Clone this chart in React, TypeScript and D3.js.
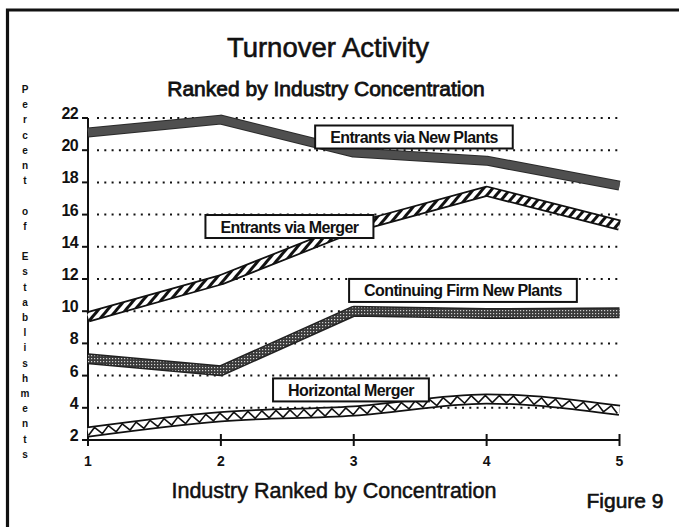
import React, { useEffect, useRef } from "react";
import * as d3 from "d3";

const xValues = [1, 2, 3, 4, 5];
const xTickLabels = ["1", "2", "3", "4", "5"];
const yTicks = [2, 4, 6, 8, 10, 12, 14, 16, 18, 20, 22];
const gridTicks = [4, 6, 8, 10, 12, 14, 16, 18, 20, 22];

const entrantsNewPlants = [21.1, 21.9, 19.85, 19.35, 17.8];
const entrantsMerger = [9.65, 11.95, 15.2, 17.45, 15.35];
const continuingNewPlants = [7.05, 6.3, 10.0, 9.85, 9.9];
const horizontalMerger = [2.5, 3.45, 3.8, 4.55, 3.85];

const seriesNames = [
  "Entrants via New Plants",
  "Entrants via Merger",
  "Continuing Firm New Plants",
  "Horizontal Merger",
];
const labelX = [3.453, 2.516, 3.822, 2.979];
const labelY = [20.82, 15.26, 11.29, 5.11];

const yTitle = "Percent of Establishments";
const title = "Turnover Activity";
const subtitle = "Ranked by Industry Concentration";
const xTitle = "Industry Ranked by Concentration";
const figureLabel = "Figure 9";

const W = 679;
const H = 527;
const FONT = "'Liberation Sans', Arial, Helvetica, sans-serif";

export default function App() {
  const ref = useRef<SVGSVGElement | null>(null);

  useEffect(() => {
    const svg = d3.select(ref.current);
    svg.selectAll("*").remove();

    const x = d3.scaleLinear().domain([1, 5]).range([88, 619.5]);
    const y = d3.scaleLinear().domain([2, 22]).range([440, 118]);

    const defs = svg.append("defs");
    const hatch = defs
      .append("pattern")
      .attr("id", "hatch")
      .attr("patternUnits", "userSpaceOnUse")
      .attr("width", 7)
      .attr("height", 7)
      .attr("patternTransform", "rotate(40)");
    hatch.append("rect").attr("width", 7).attr("height", 7).attr("fill", "#fff");
    hatch.append("rect").attr("width", 3).attr("height", 7).attr("fill", "#111");

    const stip = defs
      .append("pattern")
      .attr("id", "stipple")
      .attr("patternUnits", "userSpaceOnUse")
      .attr("width", 3)
      .attr("height", 3);
    stip.append("rect").attr("width", 3).attr("height", 3).attr("fill", "#3a3a3a");
    stip.append("rect").attr("x", 1).attr("y", 1).attr("width", 1.2).attr("height", 1.2).attr("fill", "#d0d0d0");

    // frame
    svg.append("rect").attr("width", W).attr("height", H).attr("fill", "#fff");
    svg
      .append("path")
      .attr("d", `M7.5,${H} L7.5,10 L${W},10`)
      .attr("fill", "none")
      .attr("stroke", "#111")
      .attr("stroke-width", 3.2);

    const heavyText = (
      tx: number,
      ty: number,
      size: number,
      str: string,
      sw: number
    ) =>
      svg
        .append("text")
        .attr("x", tx)
        .attr("y", ty)
        .attr("text-anchor", "middle")
        .attr("font-family", FONT)
        .attr("font-size", size)
        .attr("fill", "#111")
        .attr("stroke", "#111")
        .attr("stroke-width", sw)
        .text(str);

    // titles
    heavyText(328, 57, 27.5, title, 0.6);
    heavyText(326, 96, 21, subtitle, 0.8);
    heavyText(334, 498, 21.5, xTitle, 0.5);
    heavyText(625, 508, 21, figureLabel, 0.6);

    // vertical y title
    const letters = yTitle.split("");
    svg
      .append("g")
      .selectAll("text")
      .data(letters)
      .join("text")
      .attr("x", 25)
      .attr("y", (_d, i) => 93 + i * 15.2)
      .attr("text-anchor", "middle")
      .attr("font-family", FONT)
      .attr("font-size", 10)
      .attr("font-weight", "bold")
      .attr("fill", "#111")
      .text((d) => d);

    // grid dots
    svg
      .append("g")
      .selectAll("line")
      .data(gridTicks)
      .join("line")
      .attr("x1", x(1) + 9)
      .attr("x2", x(5) + 3)
      .attr("y1", (d) => y(d))
      .attr("y2", (d) => y(d))
      .attr("stroke", "#111")
      .attr("stroke-width", 2)
      .attr("stroke-dasharray", "2 5.3");

    // axes
    const gy = svg.append("g");
    gy.append("line")
      .attr("x1", x(1))
      .attr("x2", x(1))
      .attr("y1", y(22))
      .attr("y2", y(2) + 6)
      .attr("stroke", "#111")
      .attr("stroke-width", 2);
    gy.selectAll("line.tick")
      .data(yTicks)
      .join("line")
      .attr("class", "tick")
      .attr("x1", x(1) - 6)
      .attr("x2", x(1))
      .attr("y1", (d) => y(d))
      .attr("y2", (d) => y(d))
      .attr("stroke", "#111")
      .attr("stroke-width", 2);
    gy.selectAll("text")
      .data(yTicks)
      .join("text")
      .attr("x", x(1) - 10)
      .attr("y", (d) => y(d) + 1)
      .attr("text-anchor", "end")
      .attr("font-family", FONT)
      .attr("font-size", 16)
      .attr("font-weight", "bold")
      .attr("letter-spacing", -0.6)
      .attr("fill", "#111")
      .text((d) => String(d));

    const gx = svg.append("g");
    gx.append("line")
      .attr("x1", x(1))
      .attr("x2", x(5))
      .attr("y1", y(2))
      .attr("y2", y(2))
      .attr("stroke", "#111")
      .attr("stroke-width", 2);
    gx.selectAll("line.tick")
      .data(xValues)
      .join("line")
      .attr("class", "tick")
      .attr("x1", (d) => x(d))
      .attr("x2", (d) => x(d))
      .attr("y1", y(2) - 6)
      .attr("y2", y(2) + 6)
      .attr("stroke", "#111")
      .attr("stroke-width", 2);
    gx.selectAll("text")
      .data(xValues)
      .join("text")
      .attr("x", (d) => x(d))
      .attr("y", y(2) + 26)
      .attr("text-anchor", "middle")
      .attr("font-family", FONT)
      .attr("font-size", 14)
      .attr("font-weight", "bold")
      .attr("fill", "#111")
      .text((_d, i) => xTickLabels[i]);

    // series
    const pts = (vals: number[]) => vals.map((v, i) => [x(xValues[i]), y(v)] as [number, number]);
    const lin = d3.line<[number, number]>().curve(d3.curveLinear);
    const smooth = d3.line<[number, number]>().curve(d3.curveMonotoneX);
    const gl = svg.append("g");

    const band = (d: string, outer: string, inner: string, ow: number, iw: number) => {
      gl.append("path")
        .attr("d", d)
        .attr("fill", "none")
        .attr("stroke", outer)
        .attr("stroke-width", ow)
        .attr("stroke-linejoin", "round");
      gl.append("path")
        .attr("d", d)
        .attr("fill", "none")
        .attr("stroke", inner)
        .attr("stroke-width", iw)
        .attr("stroke-linejoin", "round");
    };

    band(lin(pts(entrantsNewPlants)) as string, "#2a2a2a", "#4f4f4f", 10, 8);
    band(lin(pts(entrantsMerger)) as string, "#111", "url(#hatch)", 11, 7.5);
    band(lin(pts(continuingNewPlants)) as string, "#222", "url(#stipple)", 11, 8);

    const hmPath = smooth(pts(horizontalMerger)) as string;
    band(hmPath, "#111", "#fff", 11, 7.5);
    const tmp = gl.append("path").attr("d", hmPath).attr("fill", "none");
    const node = tmp.node() as SVGPathElement;
    const L = node.getTotalLength();
    const step = 7;
    const zz: [number, number][] = [];
    for (let s = 0, i = 0; s <= L + 0.01; s += step, i++) {
      const p = node.getPointAtLength(Math.min(s, L));
      const p2 = node.getPointAtLength(Math.min(L, s + 0.5));
      const p1 = node.getPointAtLength(Math.max(0, s - 0.5));
      const dx = p2.x - p1.x;
      const dy = p2.y - p1.y;
      const len = Math.hypot(dx, dy) || 1;
      const nx = -dy / len;
      const ny = dx / len;
      const h = i % 2 === 0 ? 3.6 : -3.6;
      zz.push([p.x + nx * h, p.y + ny * h]);
    }
    tmp.remove();
    gl.append("path")
      .attr("d", d3.line()(zz) as string)
      .attr("fill", "none")
      .attr("stroke", "#111")
      .attr("stroke-width", 1.6);

    // labels
    const gLab = svg.append("g");
    seriesNames.forEach((name, i) => {
      const cx = x(labelX[i]);
      const cy = y(labelY[i]);
      const g = gLab.append("g");
      const rect = g.append("rect");
      const t = g
        .append("text")
        .attr("x", cx)
        .attr("y", cy + 6)
        .attr("text-anchor", "middle")
        .attr("font-family", FONT)
        .attr("font-size", 16)
        .attr("font-weight", "bold")
        .attr("letter-spacing", -0.6)
        .attr("fill", "#111")
        .text(name);
      const tw = (t.node() as SVGTextElement).getComputedTextLength();
      const bw = tw + 30;
      const bh = 23;
      rect
        .attr("x", cx - bw / 2)
        .attr("y", cy - bh / 2)
        .attr("width", bw)
        .attr("height", bh)
        .attr("fill", "#fff")
        .attr("stroke", "#111")
        .attr("stroke-width", 2);
    });
  }, []);

  return (
    <svg
      ref={ref}
      width={W}
      height={H}
      style={{ position: "absolute", left: 0, top: 0, background: "#fff" }}
    />
  );
}
